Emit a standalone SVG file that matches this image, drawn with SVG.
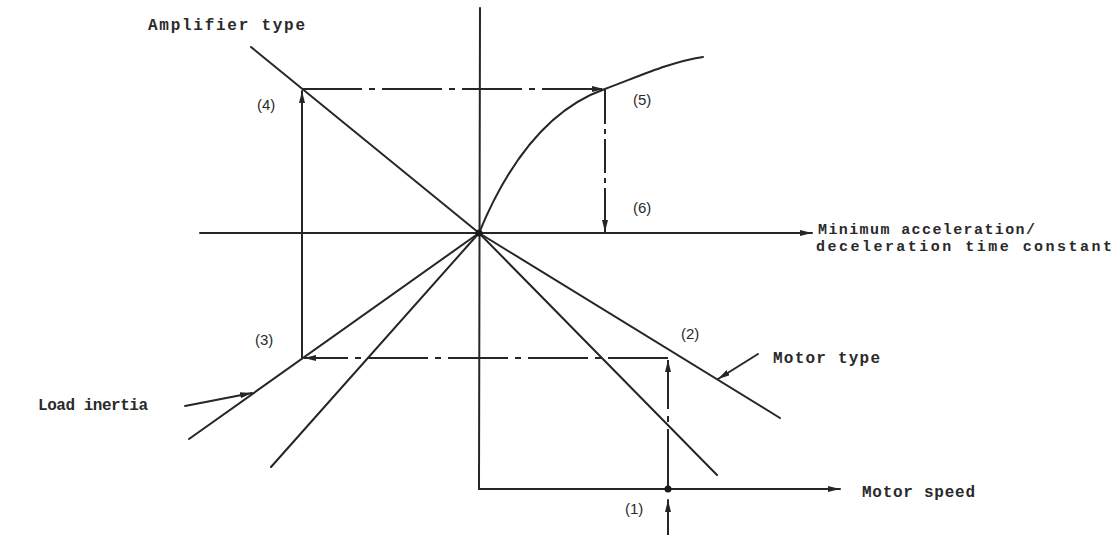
<svg xmlns="http://www.w3.org/2000/svg" width="1117" height="535" viewBox="0 0 1117 535">
<defs>
<style>
.ln{stroke:#262626;stroke-width:2;fill:none;stroke-linecap:round}
.dd{stroke:#262626;stroke-width:2;fill:none;stroke-dasharray:60 7 6 7}
.tw{font-family:"Liberation Mono","DejaVu Sans Mono",monospace;font-size:16px;fill:#2a2a2a;font-weight:bold}
.sm{font-size:15px}
.lb{font-family:"Liberation Sans",Arial,sans-serif;font-size:15px;fill:#2a2a2a}
</style>
<marker id="ah" viewBox="0 0 12 6" refX="12" refY="3" markerWidth="12" markerHeight="6" markerUnits="userSpaceOnUse" orient="auto">
<path d="M0,0 L12,3 L0,6 z" fill="#262626"/>
</marker>
</defs>
<rect width="1117" height="535" fill="#ffffff"/>
<g id="connectors">
<line id="axis-vertical" class="ln" x1="480" y1="8" x2="479" y2="489"/>
<line id="axis-min-accel" class="ln" x1="200" y1="233" x2="812" y2="233" marker-end="url(#ah)"/>
<line id="axis-motor-speed" class="ln" x1="479" y1="489" x2="840" y2="489" marker-end="url(#ah)"/>
<line id="amp-line" class="ln" x1="251" y1="47" x2="479" y2="233"/>
<line id="motor-line" class="ln" x1="479" y1="233" x2="780" y2="418"/>
<line id="steep-right" class="ln" x1="479" y1="233" x2="717" y2="475"/>
<line id="load-line" class="ln" x1="479" y1="233" x2="189" y2="439"/>
<line id="steep-left" class="ln" x1="479" y1="233" x2="271" y2="467"/>
<path id="curve" class="ln" d="M479,233 C505,170 545,110 605,89 C640,76 670,62 703,57"/>
<line class="dd" x1="668" y1="489" x2="668" y2="360" marker-end="url(#ah)"/>
<line class="dd" x1="668" y1="358" x2="304" y2="358" marker-end="url(#ah)"/>
<line class="ln" x1="302" y1="358" x2="302" y2="91" marker-end="url(#ah)"/>
<line class="dd" x1="302" y1="89" x2="604" y2="89" marker-end="url(#ah)"/>
<line class="dd" x1="605" y1="90" x2="605" y2="232" marker-end="url(#ah)" style="stroke-dasharray:34 5 5 5"/>
<line class="ln" x1="668" y1="535" x2="668" y2="500" marker-end="url(#ah)"/>
<line class="ln" x1="185" y1="406" x2="252" y2="393" marker-end="url(#ah)"/>
<line class="ln" x1="758" y1="354" x2="718" y2="379" marker-end="url(#ah)"/>
<circle cx="479" cy="233" r="3.5" fill="#1a1a1a"/>
<circle cx="668" cy="489" r="3.5" fill="#1a1a1a"/>
</g>
<g id="label-amplifier"><text class="tw" x="148" y="30" textLength="157" lengthAdjust="spacing">Amplifier type</text></g>
<g id="label-min-accel">
<text class="tw sm" x="818" y="234" textLength="217" lengthAdjust="spacing">Minimum acceleration/</text>
<text class="tw sm" x="816" y="251" textLength="296" lengthAdjust="spacing">deceleration time constant</text>
</g>
<g id="label-motor-type"><text class="tw" x="773" y="363" textLength="107" lengthAdjust="spacing">Motor type</text></g>
<g id="label-motor-speed"><text class="tw" x="862" y="497" textLength="113" lengthAdjust="spacing">Motor speed</text></g>
<g id="label-load"><text class="tw" x="38" y="410" textLength="110" lengthAdjust="spacing">Load inertia</text></g>
<g id="point-labels">
<text class="lb" x="257" y="110">(4)</text>
<text class="lb" x="633" y="105">(5)</text>
<text class="lb" x="633" y="213">(6)</text>
<text class="lb" x="255" y="345">(3)</text>
<text class="lb" x="681" y="339">(2)</text>
<text class="lb" x="625" y="514">(1)</text>
</g>
</svg>
